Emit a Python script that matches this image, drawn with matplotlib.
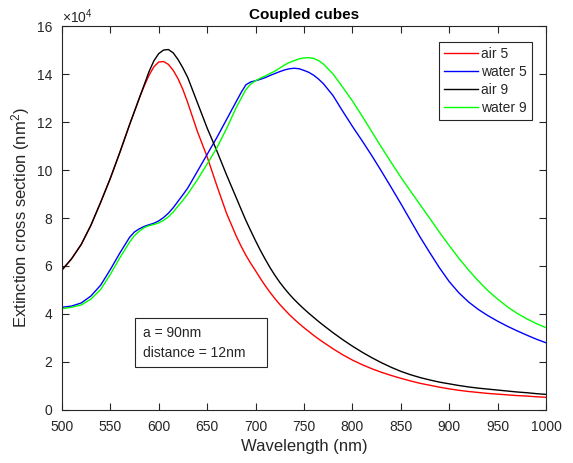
import matplotlib
matplotlib.use("Agg")
import matplotlib.pyplot as plt
from matplotlib.patches import Rectangle

plt.rcParams["font.family"] = ["Liberation Sans", "DejaVu Sans"]
plt.rcParams["mathtext.fontset"] = "custom"
plt.rcParams["mathtext.rm"] = "Liberation Sans"
plt.rcParams["mathtext.it"] = "Liberation Sans"
plt.rcParams["mathtext.bf"] = "Liberation Sans:bold"

# wavelength grid (nm) and extinction cross sections (units of 1e4 nm^2)
wavelength = [500, 510, 520, 530, 540, 550, 560,
              570, 575, 580, 585, 590, 595, 600, 605, 610, 615, 620, 625, 630,
              640, 650, 660, 670,
              680, 685, 690, 695, 700, 705, 710, 715, 720, 725, 730, 735, 740,
              745, 750, 755, 760, 765, 770,
              780, 790, 800, 810, 820, 830, 840, 850, 860, 870, 880, 890,
              900, 910, 920, 930, 940, 950, 960, 970, 980, 990, 1000]

air5 = [5.83, 6.30, 6.90, 7.70, 8.65, 9.65, 10.75,
        11.90, 12.45, 13.00, 13.50, 13.95, 14.30, 14.50, 14.52, 14.40, 14.15, 13.80, 13.35, 12.80,
        11.60, 10.55, 9.35, 8.20,
        7.25, 6.83, 6.45, 6.11, 5.80, 5.48, 5.18, 4.90, 4.64, 4.40, 4.18, 3.97, 3.78,
        3.60, 3.43, 3.27, 3.11, 2.96, 2.82,
        2.55, 2.30, 2.08, 1.89, 1.72, 1.57, 1.44, 1.32, 1.21, 1.11, 1.03, 0.95,
        0.88, 0.82, 0.77, 0.73, 0.69, 0.66, 0.63, 0.60, 0.58, 0.55, 0.53]

water5 = [4.28, 4.33, 4.46, 4.75, 5.20, 5.85, 6.55,
          7.20, 7.42, 7.55, 7.65, 7.72, 7.78, 7.88, 8.02, 8.20, 8.43, 8.70, 8.97, 9.25,
          9.95, 10.65, 11.35, 12.10,
          12.85, 13.22, 13.55, 13.67, 13.72, 13.78, 13.85, 13.94, 14.02, 14.10, 14.17, 14.22, 14.24,
          14.22, 14.15, 14.07, 13.95, 13.79, 13.60,
          13.10, 12.45, 11.82, 11.22, 10.60, 9.95, 9.28, 8.60, 7.90, 7.20, 6.55, 5.92,
          5.35, 4.88, 4.50, 4.19, 3.93, 3.70, 3.49, 3.30, 3.12, 2.95, 2.80]

air9 = [5.83, 6.30, 6.90, 7.70, 8.65, 9.65, 10.75,
        11.90, 12.45, 13.00, 13.55, 14.10, 14.55, 14.85, 15.00, 15.02, 14.88, 14.60, 14.25, 13.85,
        12.80, 11.75, 10.80, 9.80,
        8.85, 8.37, 7.90, 7.47, 7.05, 6.65, 6.28, 5.93, 5.61, 5.32, 5.06, 4.82, 4.60,
        4.40, 4.21, 4.03, 3.86, 3.69, 3.53,
        3.22, 2.93, 2.66, 2.41, 2.18, 1.97, 1.78, 1.61, 1.47, 1.35, 1.25, 1.16,
        1.09, 1.02, 0.96, 0.91, 0.87, 0.83, 0.79, 0.75, 0.72, 0.68, 0.65]

water9 = [4.22, 4.28, 4.38, 4.62, 5.02, 5.65, 6.35,
          7.00, 7.27, 7.45, 7.60, 7.68, 7.73, 7.80, 7.90, 8.05, 8.25, 8.50, 8.74, 9.00,
          9.60, 10.25, 10.92, 11.72,
          12.60, 12.98, 13.35, 13.58, 13.72, 13.83, 13.92, 14.02, 14.12, 14.25, 14.38, 14.48, 14.56,
          14.63, 14.67, 14.68, 14.65, 14.56, 14.42,
          14.00, 13.45, 12.88, 12.25, 11.60, 10.95, 10.32, 9.70, 9.12, 8.55, 7.98, 7.40,
          6.85, 6.32, 5.83, 5.38, 4.97, 4.62, 4.30, 4.03, 3.80, 3.60, 3.43]

series = [("air 5", air5, "#ff0000"),
          ("water 5", water5, "#0000ff"),
          ("air 9", air9, "#000000"),
          ("water 9", water9, "#00ff00")]

xticks = list(range(500, 1001, 50))
yticks = list(range(0, 17, 2))

fig = plt.figure(figsize=(5.73, 4.63), dpi=100)
ax = fig.add_axes([0.108, 0.1145, 0.845, 0.8293])

for label, vals, color in series:
    ax.plot(wavelength, vals, color=color, lw=1.0, label=label)

ax.set_xlim(500, 1000)
ax.set_ylim(0, 16)
ax.set_xticks(xticks)
ax.set_yticks(yticks)

axis_color = "#262626"
for sp in ax.spines.values():
    sp.set_color(axis_color)
    sp.set_linewidth(0.8)
ax.tick_params(direction="in", length=5, width=0.8, colors=axis_color,
               labelsize=10, top=True, right=True, labelcolor=axis_color)
ax.tick_params(axis="x", pad=7)
ax.tick_params(axis="y", pad=7)

ax.set_xlabel("Wavelength (nm)", fontsize=12, color=axis_color, labelpad=4)
ax.set_ylabel("Extinction cross section (nm$^2$)", fontsize=12, color=axis_color, labelpad=3)
ax.set_title("Coupled cubes", fontsize=11, fontweight="bold", pad=5)

fig.text(62 / 573, 1 - 23 / 463, r"$\times10^{4}$", fontsize=10, color=axis_color,
         ha="left", va="baseline")

leg = ax.legend(loc="upper right", bbox_to_anchor=(531.7 / 573, 1 - 41.7 / 463),
                bbox_transform=fig.transFigure, fontsize=10, fancybox=False,
                framealpha=1, edgecolor=axis_color, handlelength=2.45,
                handletextpad=0.2, labelspacing=0.3, borderpad=0.35,
                borderaxespad=0)
leg.get_frame().set_linewidth(0.8)
for t in leg.get_texts():
    t.set_color(axis_color)

# annotation box
fig.patches.append(Rectangle((135 / 573, 1 - 367.3 / 463), 131.7 / 573, 49 / 463,
                             transform=fig.transFigure, fill=True, facecolor="white",
                             edgecolor=axis_color, lw=0.8, zorder=5))
fig.text(143 / 573, 1 - 333.3 / 463, "a = 90nm", fontsize=10, color=axis_color,
         va="center", ha="left", zorder=6)
fig.text(143 / 573, 1 - 352.7 / 463, "distance = 12nm", fontsize=10, color=axis_color,
         va="center", ha="left", zorder=6)

fig.savefig("out.png", dpi=100)
plt.close(fig)
